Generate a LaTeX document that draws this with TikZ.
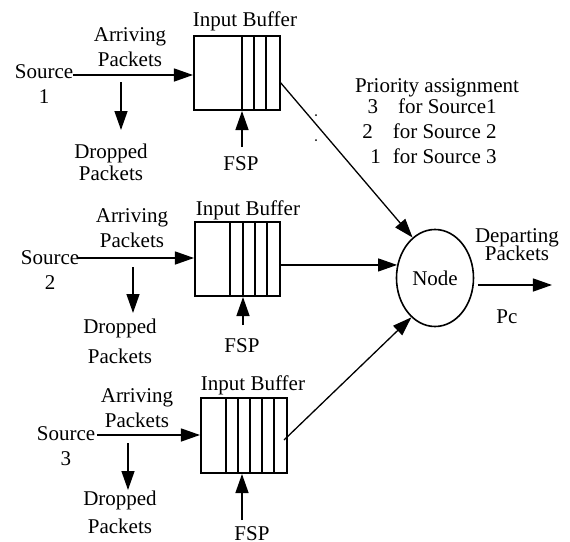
\documentclass[tikz,border=0pt]{standalone}
\usepackage{fontspec}
\setmainfont{Liberation Serif}
\usetikzlibrary{arrows.meta,shapes.geometric}
\begin{document}
\begin{tikzpicture}[x=0.5pt, y=-0.5pt,
    every node/.style={font=\fontsize{10.5}{12.5}\selectfont, inner sep=0pt},
    txt/.style={align=center, anchor=base},
    arr/.style={line width=0.65pt, -{Triangle[length=9.5pt, width=6.5pt]}},
    buf/.style={draw, line width=1pt, minimum width=43pt, minimum height=37pt},
    cell/.style={line width=0.8pt}]
    \useasboundingbox (0, 0) rectangle (570, 542);

    % source 1
    \node [buf] (b1) at (237, 73) {};
    \foreach \x in {242, 254, 266}
        \draw [cell] (b1.north -| \x, 0) to (b1.south -| \x, 0);
    \node [txt] (ib1) at (245, 26) {Input Buffer};
    \node [txt] (s1) at (44, 103) {Source\\1};
    \node [txt] (a1) at (130, 66) {Arriving\\Packets};
    \node [txt] (d1) at (111, 180) {Dropped\\[-1.5pt]Packets};
    \node [txt] (f1) at (241, 170) {FSP};
    \coordinate (s1o) at (73, 75);
    \draw [arr] (s1o) to (s1o -| b1.west);
    \coordinate (d1o) at (121, 82);
    \coordinate (d1e) at (121, 130);
    \draw [arr] (d1o) to (d1e);
    \coordinate (f1o) at (242, 147);
    \draw [arr] (f1o) to (f1o |- b1.south);

    % source 2
    \node [buf, minimum width=42.5pt] (b2) at (237.5, 259) {};
    \foreach \x in {230, 243, 255, 267}
        \draw [cell] (b2.north -| \x, 0) to (b2.south -| \x, 0);
    \node [txt] (ib2) at (248, 215) {Input Buffer};
    \node [txt] (s2) at (50, 289) {Source\\2};
    \node [txt] (a2) at (132, 247) {Arriving\\Packets};
    \node [txt] (d2) at (120, 363) {Dropped\\[2.5pt]Packets};
    \node [txt] (f2) at (242, 352) {FSP};
    \coordinate (s2o) at (78, 258);
    \draw [arr] (s2o) to (s2o -| b2.west);
    \coordinate (d2o) at (133, 267);
    \coordinate (d2e) at (133, 313);
    \draw [arr] (d2o) to (d2e);
    \coordinate (f2o) at (243, 325);
    \draw [arr] (f2o) to (f2o |- b2.south);

    % source 3
    \node [buf, minimum height=37.5pt] (b3) at (244, 435.5) {};
    \foreach \x in {226, 238, 250, 262, 274}
        \draw [cell] (b3.north -| \x, 0) to (b3.south -| \x, 0);
    \node [txt] (ib3) at (253, 390) {Input Buffer};
    \node [txt] (s3) at (66, 465) {Source\\3};
    \node [txt] (a3) at (137, 427) {Arriving\\Packets};
    \node [txt] (d3) at (120, 533) {Dropped\\[1.5pt]Packets};
    \node [txt] (f3) at (252, 540) {FSP};
    \coordinate (s3o) at (97, 435);
    \draw [arr] (s3o) to (s3o -| b3.west);
    \coordinate (d3o) at (128, 443);
    \coordinate (d3e) at (128, 490);
    \draw [arr] (d3o) to (d3e);
    \coordinate (f3o) at (242, 520);
    \draw [arr] (f3o) to (f3o |- b3.south);

    % node
    \node [draw, ellipse, line width=0.8pt, minimum width=38.5pt, minimum height=48.5pt] (n) at (435, 278) {Node};
    \coordinate (b1o) at (280, 82);
    \draw [arr] (b1o) to (n.119);
    \draw [arr] (b2.east |- n.161) to (n.161);
    \coordinate (b3o) at (284, 440);
    \draw [arr] (b3o) to (n.239);

    \node [txt] (pa) at (437, 92) {Priority assignment};
    \node [align=right, anchor=base east] (pl) at (497, 163) {3\hspace{10pt}for Source1\\2\hspace{10pt}for Source 2\\1\hspace{6pt}for Source 3};
    \fill (316, 115) circle (0.5pt);
    \fill (316, 140) circle (0.5pt);

    % departing
    \node [txt] (dp) at (517, 260) {Departing\\[-3.5pt]Packets};
    \node [txt] (pc) at (507, 323) {Pc};
    \coordinate (po) at (478, 285);
    \coordinate (pe) at (552, 285);
    \draw [arr] (po) to (pe);
\end{tikzpicture}
\end{document}
